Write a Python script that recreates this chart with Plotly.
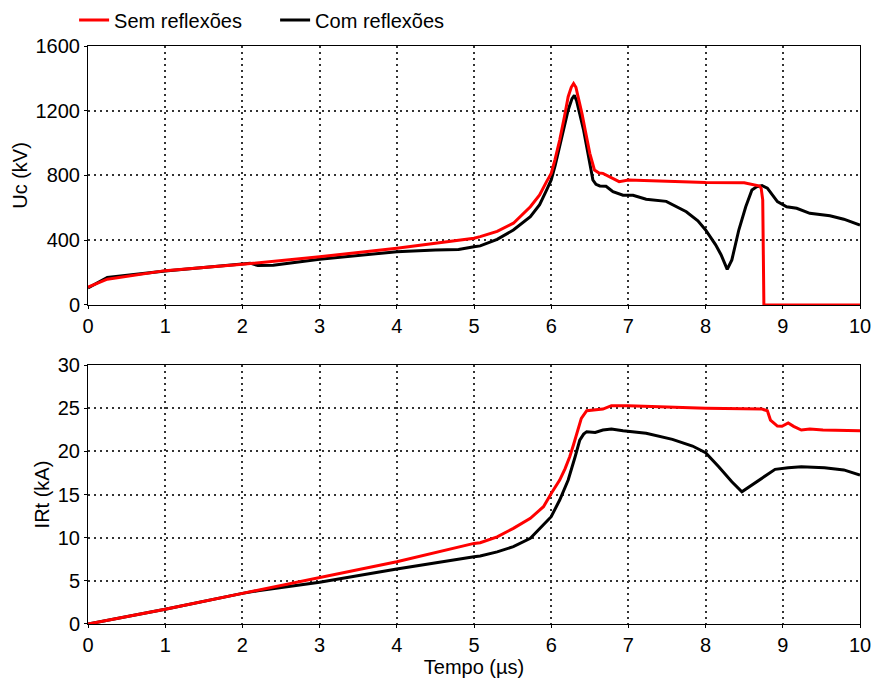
import plotly.graph_objects as go
from plotly.subplots import make_subplots

# ---- Data (time in µs) ----
uc_sem_t = [0.0, 0.25, 1.0, 2.0, 3.0, 4.0, 5.0, 5.08, 5.3, 5.51, 5.73, 5.85, 5.94, 6.0, 6.05, 6.11, 6.17,
            6.22, 6.26, 6.29, 6.32, 6.35, 6.40, 6.44, 6.50, 6.56, 6.62, 6.67, 6.74, 6.80, 6.88, 7.0, 7.5,
            8.0, 8.5, 8.65, 8.70, 8.72, 8.74, 8.755, 9.0, 10.0]
uc_sem_v = [110, 159, 212, 251, 298, 350, 412, 422, 455, 505, 607, 680, 762, 813, 900, 1019, 1160,
            1287, 1345, 1368, 1345, 1287, 1180, 1081, 937, 834, 815, 813, 795, 782, 762, 772, 762,
            756, 755, 741, 735, 720, 650, 0, 0, 0]

uc_com_t = [0.0, 0.25, 1.0, 2.0, 2.1, 2.2, 2.4, 3.0, 4.0, 4.5, 4.8, 5.0, 5.08, 5.3, 5.51, 5.73, 5.85,
            5.94, 6.0, 6.05, 6.11, 6.17, 6.22, 6.27, 6.30, 6.33, 6.37, 6.42, 6.46, 6.50, 6.54, 6.58,
            6.63, 6.71, 6.80, 6.93, 7.06, 7.23, 7.49, 7.75, 7.9, 8.0, 8.13, 8.2, 8.28, 8.34, 8.43,
            8.52, 8.60, 8.66, 8.73, 8.80, 8.86, 8.93, 9.05, 9.18, 9.35, 9.61, 9.79, 10.0]
uc_com_v = [105, 170, 210, 255, 258, 243, 245, 282, 329, 340, 342, 360, 365, 405, 463, 545, 620,
            710, 772, 860, 978, 1100, 1205, 1275, 1295, 1260, 1184, 1080, 978, 870, 772, 745,
            735, 733, 700, 678, 678, 653, 640, 576, 520, 463, 371, 310, 220, 278, 463,
            607, 710, 730, 738, 722, 680, 638, 607, 597, 566, 551, 530, 494]

irt_sem_t = [0.0, 1.0, 2.0, 3.0, 4.0, 5.0, 5.08, 5.3, 5.51, 5.73, 5.90, 6.0, 6.11, 6.18, 6.24, 6.29,
             6.33, 6.39, 6.46, 6.58, 6.67, 6.78, 7.0, 8.0, 8.73, 8.80, 8.84, 8.93, 8.99, 9.07, 9.14,
             9.24, 9.35, 9.52, 10.0]
irt_sem_v = [0.0, 1.7, 3.55, 5.37, 7.22, 9.34, 9.42, 10.1, 11.08, 12.24, 13.59, 15.13, 16.68, 18.0,
             19.38, 20.8, 22.09, 23.83, 24.71, 24.8, 24.9, 25.3, 25.3, 25.0, 24.9, 24.7, 23.63, 22.93,
             22.9, 23.3, 22.9, 22.47, 22.6, 22.47, 22.4]

irt_com_t = [0.0, 1.0, 2.0, 2.2, 3.0, 4.0, 5.0, 5.08, 5.3, 5.51, 5.73, 5.90, 6.0, 6.11, 6.22, 6.31,
             6.37, 6.42, 6.46, 6.57, 6.67, 6.78, 6.93, 7.23, 7.57, 7.83, 8.0, 8.17, 8.34, 8.47, 8.60,
             8.78, 8.90, 9.07, 9.24, 9.54, 9.79, 10.0]
irt_com_v = [0.0, 1.7, 3.55, 3.85, 4.83, 6.37, 7.8, 7.88, 8.35, 8.96, 9.92, 11.47, 12.43, 14.36,
             16.68, 19.38, 21.31, 22.0, 22.28, 22.2, 22.47, 22.6, 22.4, 22.09, 21.39, 20.62, 19.84,
             18.22, 16.48, 15.32, 16.1, 17.26, 17.92, 18.1, 18.22, 18.1, 17.85, 17.26]

x_ticks = list(range(0, 11))
uc_ticks = [0, 400, 800, 1200, 1600]
irt_ticks = [0, 5, 10, 15, 20, 25, 30]

FONT = "Liberation Sans, Arial, sans-serif"
FS = 20
RED = "#ff0000"
BLACK = "#000000"
LW = 3

fig = make_subplots(rows=2, cols=1, vertical_spacing=0.104)

fig.add_trace(go.Scatter(x=uc_com_t, y=uc_com_v, mode="lines", name="Com reflexões",
                         line=dict(color=BLACK, width=LW), showlegend=False), row=1, col=1)
fig.add_trace(go.Scatter(x=uc_sem_t, y=uc_sem_v, mode="lines", name="Sem reflexões",
                         line=dict(color=RED, width=LW), legendrank=1), row=1, col=1)
fig.add_trace(go.Scatter(x=[None], y=[None], mode="lines", name="Com reflexões",
                         line=dict(color=BLACK, width=LW), legendrank=2), row=1, col=1)
fig.add_trace(go.Scatter(x=irt_com_t, y=irt_com_v, mode="lines", name="Com reflexões",
                         line=dict(color=BLACK, width=LW), showlegend=False), row=2, col=1)
fig.add_trace(go.Scatter(x=irt_sem_t, y=irt_sem_v, mode="lines", name="Sem reflexões",
                         line=dict(color=RED, width=LW), showlegend=False), row=2, col=1)

axis_common = dict(showline=True, linecolor=BLACK, linewidth=1, mirror=True,
                   showgrid=True, gridcolor="#333333", griddash="2px,4px", gridwidth=1.5,
                   ticks="outside", ticklen=3, tickcolor=BLACK, zeroline=False,
                   tickfont=dict(family=FONT, size=FS, color=BLACK))

for r in (1, 2):
    fig.update_xaxes(range=[0, 10], tickvals=x_ticks, **axis_common, row=r, col=1)

fig.update_yaxes(range=[0, 1600], tickvals=uc_ticks, **axis_common, row=1, col=1,
                 title=dict(text="Uc (kV)", font=dict(family=FONT, size=FS, color=BLACK), standoff=2))
fig.update_yaxes(range=[0, 30], tickvals=irt_ticks, **axis_common, row=2, col=1,
                 title=dict(text="IRt (kA)", font=dict(family=FONT, size=FS, color=BLACK), standoff=2))
fig.update_xaxes(title=dict(text="Tempo (µs)", font=dict(family=FONT, size=FS, color=BLACK), standoff=0),
                 row=2, col=1)

fig.update_layout(
    width=874, height=682,
    margin=dict(l=88, r=14, t=46, b=58, autoexpand=False),
    paper_bgcolor="white", plot_bgcolor="white",
    font=dict(family=FONT, size=FS, color=BLACK),
    legend=dict(orientation="h", x=-0.018, xanchor="left", y=1.045, yanchor="middle",
                font=dict(family=FONT, size=FS, color=BLACK),
                bgcolor="rgba(0,0,0,0)", itemwidth=30, tracegroupgap=0,
                entrywidth=156, entrywidthmode="pixels"),
)

fig.write_html("out.html", config={"displayModeBar": False},
               post_script="document.body.style.margin='0';document.body.style.padding='0';")
